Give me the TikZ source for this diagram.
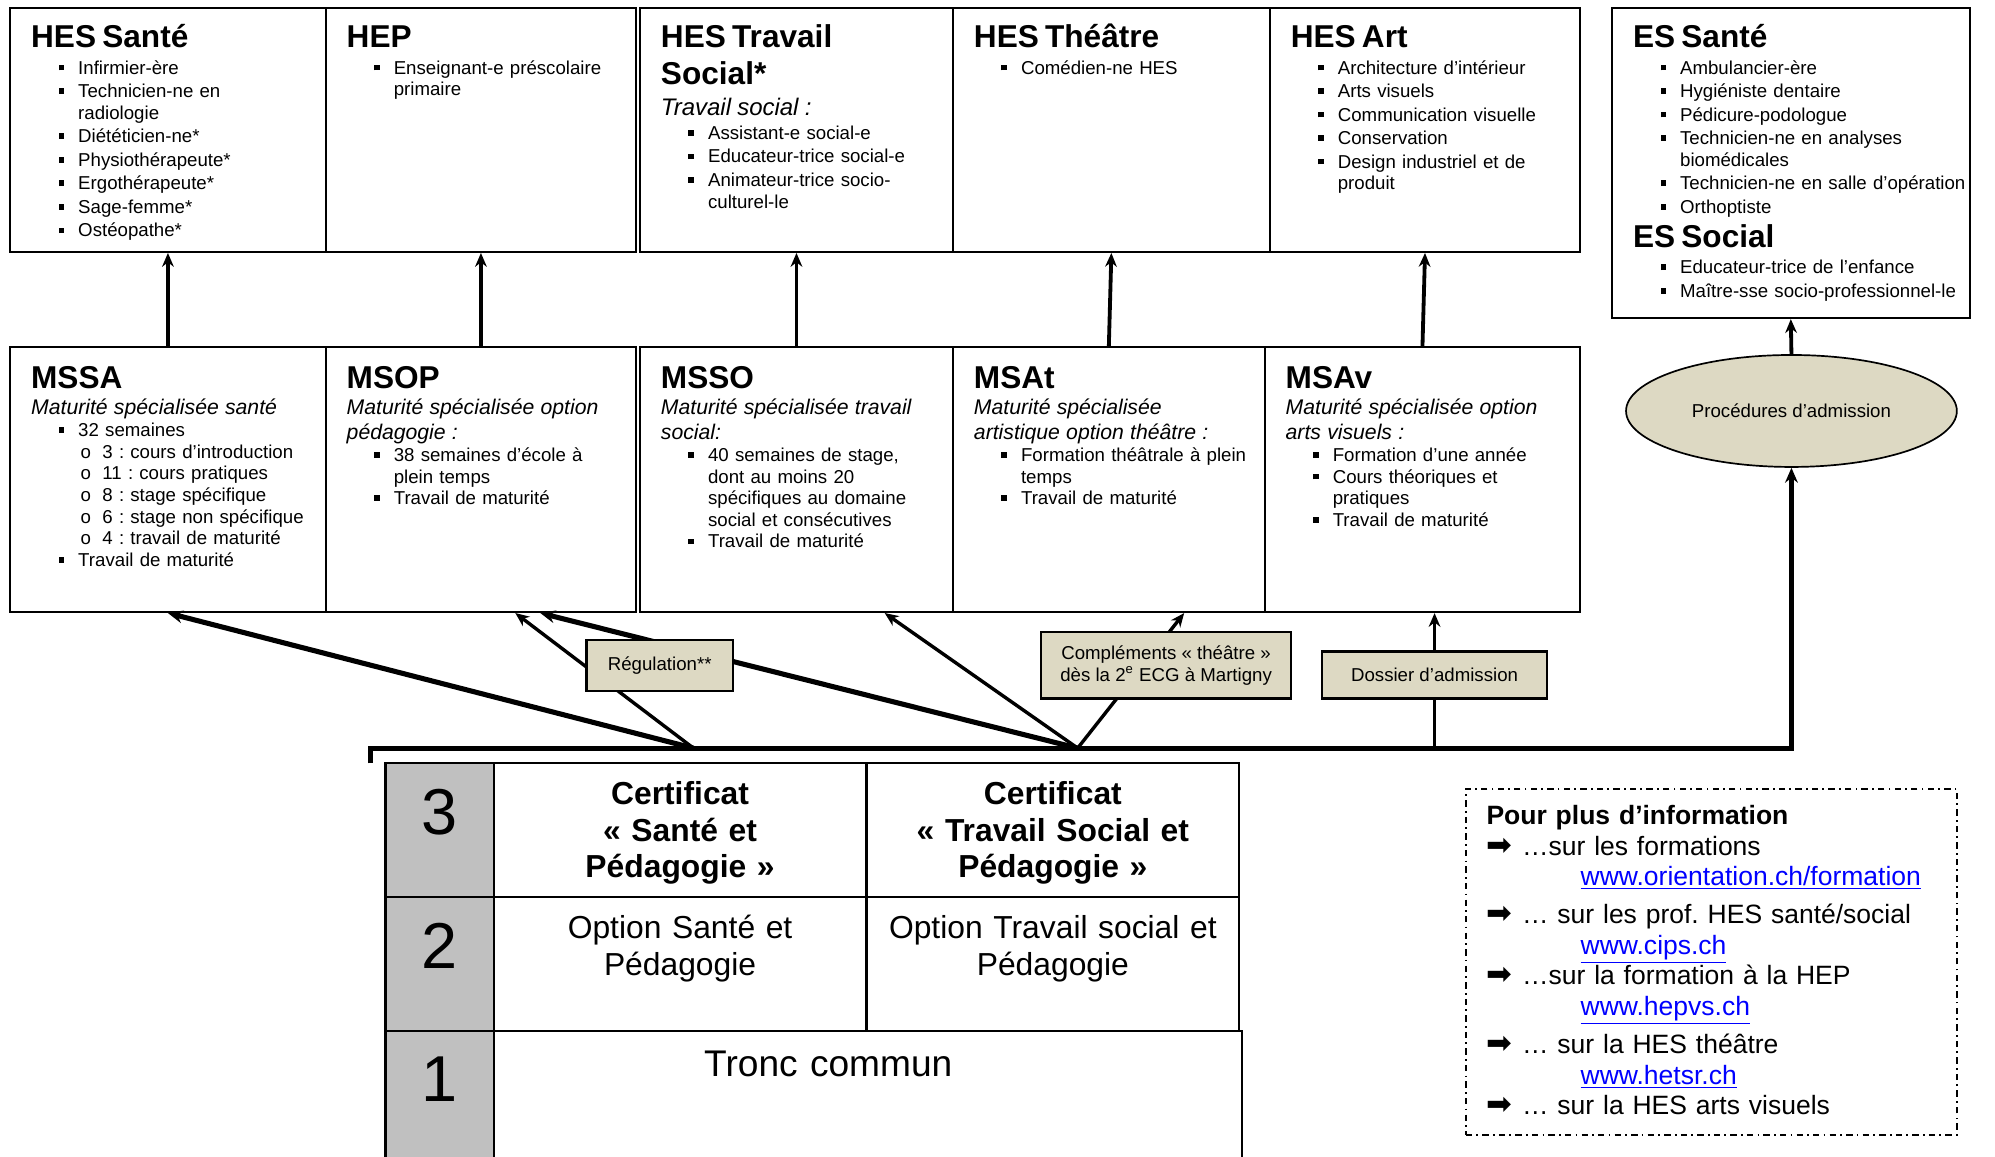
\documentclass[tikz,border=0pt]{standalone}
\usepackage{fontspec}
\setmainfont{Liberation Sans}
\newfontfamily\symbfont{DejaVu Sans}
\usetikzlibrary{arrows.meta,fit,calc,shapes.geometric,backgrounds}
\definecolor{beige}{HTML}{DDD9C3}
\definecolor{gris}{HTML}{C0C0C0}
\definecolor{lien}{HTML}{0000FF}
\frenchspacing
\newcommand\corps{\fontsize{8.8}{10.2}\selectfont}
\newcommand\titre[2][2.4pt]{{\fontsize{14.9}{17.4}\selectfont\bfseries #2\par}\vspace{#1}}
\newcommand\soustitre[2][0pt]{{\fontsize{10}{11.7}\selectfont\itshape #2\par}\vspace{#1}}
\newcommand\fl{\makebox[16.8pt][l]{{\symbfont\fontsize{14.5}{14}\selectfont ➡}}}
\newcommand\adresse[1]{\hspace*{44.4pt}\textcolor{lien}{\underline{#1}}}
\newenvironment{puces}[1][0pt]{\begin{list}{\rule[0.2em]{0.3em}{0.3em}}{%
  \setlength\leftmargin{22.2pt}\setlength\labelwidth{15pt}\setlength\labelsep{6.6pt}%
  \setlength\itemsep{#1}\setlength\parsep{0pt}\setlength\topsep{0pt}\setlength\partopsep{0pt}}}{\end{list}}
\newenvironment{ronds}{\begin{list}{o}{%
  \setlength\leftmargin{11.4pt}\setlength\labelwidth{8pt}\setlength\labelsep{5.4pt}%
  \setlength\itemsep{0pt}\setlength\parsep{0pt}\setlength\topsep{0pt}\setlength\partopsep{0pt}}}{\end{list}}
\begin{document}
\begin{tikzpicture}[x=0.6pt,y=-0.6pt,
  cadre/.style={draw,line width=1pt,inner sep=0pt},
  contenu/.style={anchor=base west,inner sep=0pt,text width=#1,align=left,font=\corps},
  contenu/.default=140pt,
  etiquette/.style={draw,line width=1pt,fill=beige,inner sep=0pt},
  case/.style={draw,line width=1pt,inner sep=0pt},
  texte/.style={anchor=base,inner sep=0pt,text width=#1,align=center},
  fleche/.style={line width=1.8pt,-{Stealth[length=6.5pt,width=5.5pt]}},
  epais/.style={line width=2.4pt,-{Stealth[length=7pt,width=6pt]}},
  mince/.style={line width=1.6pt,-{Stealth[length=6.5pt,width=5.5pt]}}]
\useasboundingbox (0,0) rectangle (1568,909);

% hautes ecoles
\node[cadre,fit={(8,6) (256,198)}] (hessante) {};
\node[cadre,fit={(256,6) (500,198)}] (hep) {};
\node[cadre,fit={(503,6) (749,198)}] (hestravail) {};
\node[cadre,fit={(749,6) (998,198)}] (hestheatre) {};
\node[cadre,fit={(998,6) (1242,198)}] (hesart) {};
\node[cadre,fit={(1267,6) (1548,250)}] (es) {};

\node[contenu] (hessante-t) at ([shift={(17,32)}]hessante.north west) {\titre{HES Santé}
  \begin{puces}[0.9pt]\item Infirmier-ère \item Technicien-ne en\newline radiologie \item Diététicien-ne*
  \item Physiothérapeute* \item Ergothérapeute* \item Sage-femme* \item Ostéopathe*\end{puces}};
\node[contenu] (hep-t) at ([shift={(17,32)}]hep.north west) {\titre{HEP}
  \begin{puces}\item Enseignant-e préscolaire\newline primaire\end{puces}};
\node[contenu] (hestravail-t) at ([shift={(17,32)}]hestravail.north west) {\titre[1.6pt]{HES Travail\newline Social*}
  {\fontsize{11.3}{13}\selectfont\itshape Travail social~:\par}\vspace{1.2pt}
  \begin{puces}[0.9pt]\item Assistant-e social-e \item Educateur-trice social-e
  \item Animateur-trice socio-\newline culturel-le\end{puces}};
\node[contenu] (hestheatre-t) at ([shift={(17,32)}]hestheatre.north west) {\titre{HES Théâtre}
  \begin{puces}\item Comédien-ne HES\end{puces}};
\node[contenu] (hesart-t) at ([shift={(17,32)}]hesart.north west) {\titre{HES Art}
  \begin{puces}[0.9pt]\item Architecture d’intérieur \item Arts visuels \item Communication visuelle
  \item Conservation \item Design industriel et de\newline produit\end{puces}};
\node[contenu=175pt] (es-t) at ([shift={(17,32)}]es.north west) {\titre{ES Santé}
  \begin{puces}[0.9pt]\item Ambulancier-ère \item Hygiéniste dentaire \item Pédicure-podologue
  \item Technicien-ne en analyses\newline biomédicales \item Technicien-ne en salle d’opération
  \item Orthoptiste\end{puces}\vspace{-1.5pt}
  \titre{ES Social}
  \begin{puces}[0.9pt]\item Educateur-trice de l’enfance \item Maître-sse socio-professionnel-le\end{puces}};

% maturites specialisees
\node[cadre,fit={(8,273) (256,481)}] (mssa) {};
\node[cadre,fit={(256,273) (500,481)}] (msop) {};
\node[cadre,fit={(503,273) (749,481)}] (msso) {};
\node[cadre,fit={(749,273) (994,481)}] (msat) {};
\node[cadre,fit={(994,273) (1242,481)}] (msav) {};

\node[contenu] (mssa-t) at ([shift={(17,33)}]mssa.north west) {\titre[0.9pt]{MSSA}
  \soustitre{Maturité spécialisée santé}
  \begin{puces}\item 32 semaines
    \begin{ronds}\item 3~: cours d’introduction \item 11~: cours pratiques \item 8~: stage spécifique
    \item 6~: stage non spécifique \item 4~: travail de maturité\end{ronds}
  \item Travail de maturité\end{puces}};
\node[contenu] (msop-t) at ([shift={(17,33)}]msop.north west) {\titre[0.9pt]{MSOP}
  \soustitre{Maturité spécialisée option\newline pédagogie~:}
  \begin{puces}\item 38 semaines d’école à\newline plein temps \item Travail de maturité\end{puces}};
\node[contenu] (msso-t) at ([shift={(17,33)}]msso.north west) {\titre[0.9pt]{MSSO}
  \soustitre{Maturité spécialisée travail\newline social:}
  \begin{puces}\item 40 semaines de stage,\newline dont au moins 20\newline spécifiques au domaine\newline social et consécutives
  \item Travail de maturité\end{puces}};
\node[contenu] (msat-t) at ([shift={(17,33)}]msat.north west) {\titre[0.9pt]{MSAt}
  \soustitre{Maturité spécialisée\newline artistique option théâtre~:}
  \begin{puces}\item Formation théâtrale à plein\newline temps \item Travail de maturité\end{puces}};
\node[contenu] (msav-t) at ([shift={(17,33)}]msav.north west) {\titre[0.9pt]{MSAv}
  \soustitre{Maturité spécialisée option\newline arts visuels~:}
  \begin{puces}\item Formation d’une année \item Cours théoriques et\newline pratiques \item Travail de maturité\end{puces}};

% admission et passerelles
\node[draw,ellipse,fill=beige,line width=0.8pt,inner sep=0pt,minimum width=156pt,minimum height=52.8pt,font=\corps]
  (procad) at (1408,323) {Procédures d’admission};
\node[etiquette,fit={(461,503) (576,543)}] (regul) {};
\node[etiquette,fit={(818,497) (1015,549)}] (complements) {};
\node[etiquette,fit={(1039,512) (1216,549)}] (dossier) {};
\node[font=\corps] (regul-t) at (regul.center) {Régulation**};
\node[font=\corps,align=center] (complements-t) at (complements.center)
  {Compléments «~théâtre~»\\dès la 2\textsuperscript{e} ECG à Martigny};
\node[font=\corps] (dossier-t) at (dossier.center) {Dossier d’admission};

% ecole de culture generale
\node[case,fill=gris,fit={(303,600) (388,705)}] (rang3) {};
\node[case,fill=gris,fit={(303,705) (388,810)}] (rang2) {};
\node[case,fill=gris,fit={(303,810) (388,915)}] (rang1) {};
\node[case,fit={(388,600) (681,705)}] (cert1) {};
\node[case,fit={(681,600) (974,705)}] (cert2) {};
\node[case,fit={(388,705) (681,810)}] (opt1) {};
\node[case,fit={(681,705) (974,810)}] (opt2) {};
\node[case,fit={(388,810) (976,915)}] (tronc) {};
\foreach \r/\y in {3/638.5,2/743.5,1/848.5}
  \node[inner sep=0pt,font=\fontsize{30.6}{34}\selectfont] (chiffre\r) at (345.5,\y) {\r};
\node[texte=170pt,font=\fontsize{15}{17.4}\selectfont\bfseries] (cert1-t) at (534.5,632) {Certificat\\«~Santé et\\Pédagogie~»};
\node[texte=170pt,font=\fontsize{15}{17.4}\selectfont\bfseries] (cert2-t) at (827.5,632) {Certificat\\«~Travail Social et\\Pédagogie~»};
\node[texte=170pt,font=\fontsize{15}{17.4}\selectfont] (opt1-t) at (534.5,738) {Option Santé et\\Pédagogie};
\node[texte=170pt,font=\fontsize{15}{17.4}\selectfont] (opt2-t) at (827.5,738) {Option Travail social et\\Pédagogie};
\node[texte=200pt,font=\fontsize{17.5}{20}\selectfont] (tronc-t) at (651,846) {Tronc commun};

% informations
\node[draw,line width=0.8pt,dash pattern=on 3pt off 2pt on 0.8pt off 2pt,inner sep=0pt,fit={(1152,620) (1538,892)}] (info) {};
\node[anchor=base west,inner sep=0pt,text width=235pt,align=left,font=\fontsize{12.5}{14.4}\selectfont]
  (info-t) at (1168,648) {{\bfseries Pour plus d’information}\newline
  \fl…sur les formations\newline
  \adresse{www.orientation.ch/formation}\par\vspace{3.6pt}
  \fl… sur les prof. HES santé/social\newline
  \adresse{www.cips.ch}\newline
  \fl…sur la formation à la HEP\newline
  \adresse{www.hepvs.ch}\par\vspace{3.6pt}
  \fl… sur la HES théâtre\newline
  \adresse{www.hetsr.ch}\newline
  \fl… sur la HES arts visuels};

\coordinate (bord) at (291,600);
\coordinate (coin) at (291,588);
\coordinate (fourcheA) at (545,588);
\coordinate (fourcheB) at (847,588);

\begin{scope}[on background layer]
\foreach \a/\b in {mssa/hessante,msop/hep,msso/hestravail,msat/hestheatre,msav/hesart,procad/es}
  \draw[fleche] (\a.north) -- (\b.south);
\draw[epais] (bord) -- (coin) -- (coin -| procad.south) -- (procad.south);
\draw[epais] (fourcheA) -- (mssa.south);
\draw[mince] (fourcheA) -- ($(msop.south west)!0.61!(msop.south east)$);
\draw[epais] (fourcheB) -- ($(msop.south west)!0.69!(msop.south east)$);
\draw[mince] (fourcheB) -- ($(msso.south west)!0.78!(msso.south east)$);
\draw[mince] (fourcheB) -- ($(msat.south west)!0.74!(msat.south east)$);
\draw[mince] (dossier.south |- coin) -- (dossier.north |- msav.south);
\end{scope}
\end{tikzpicture}
\end{document}
